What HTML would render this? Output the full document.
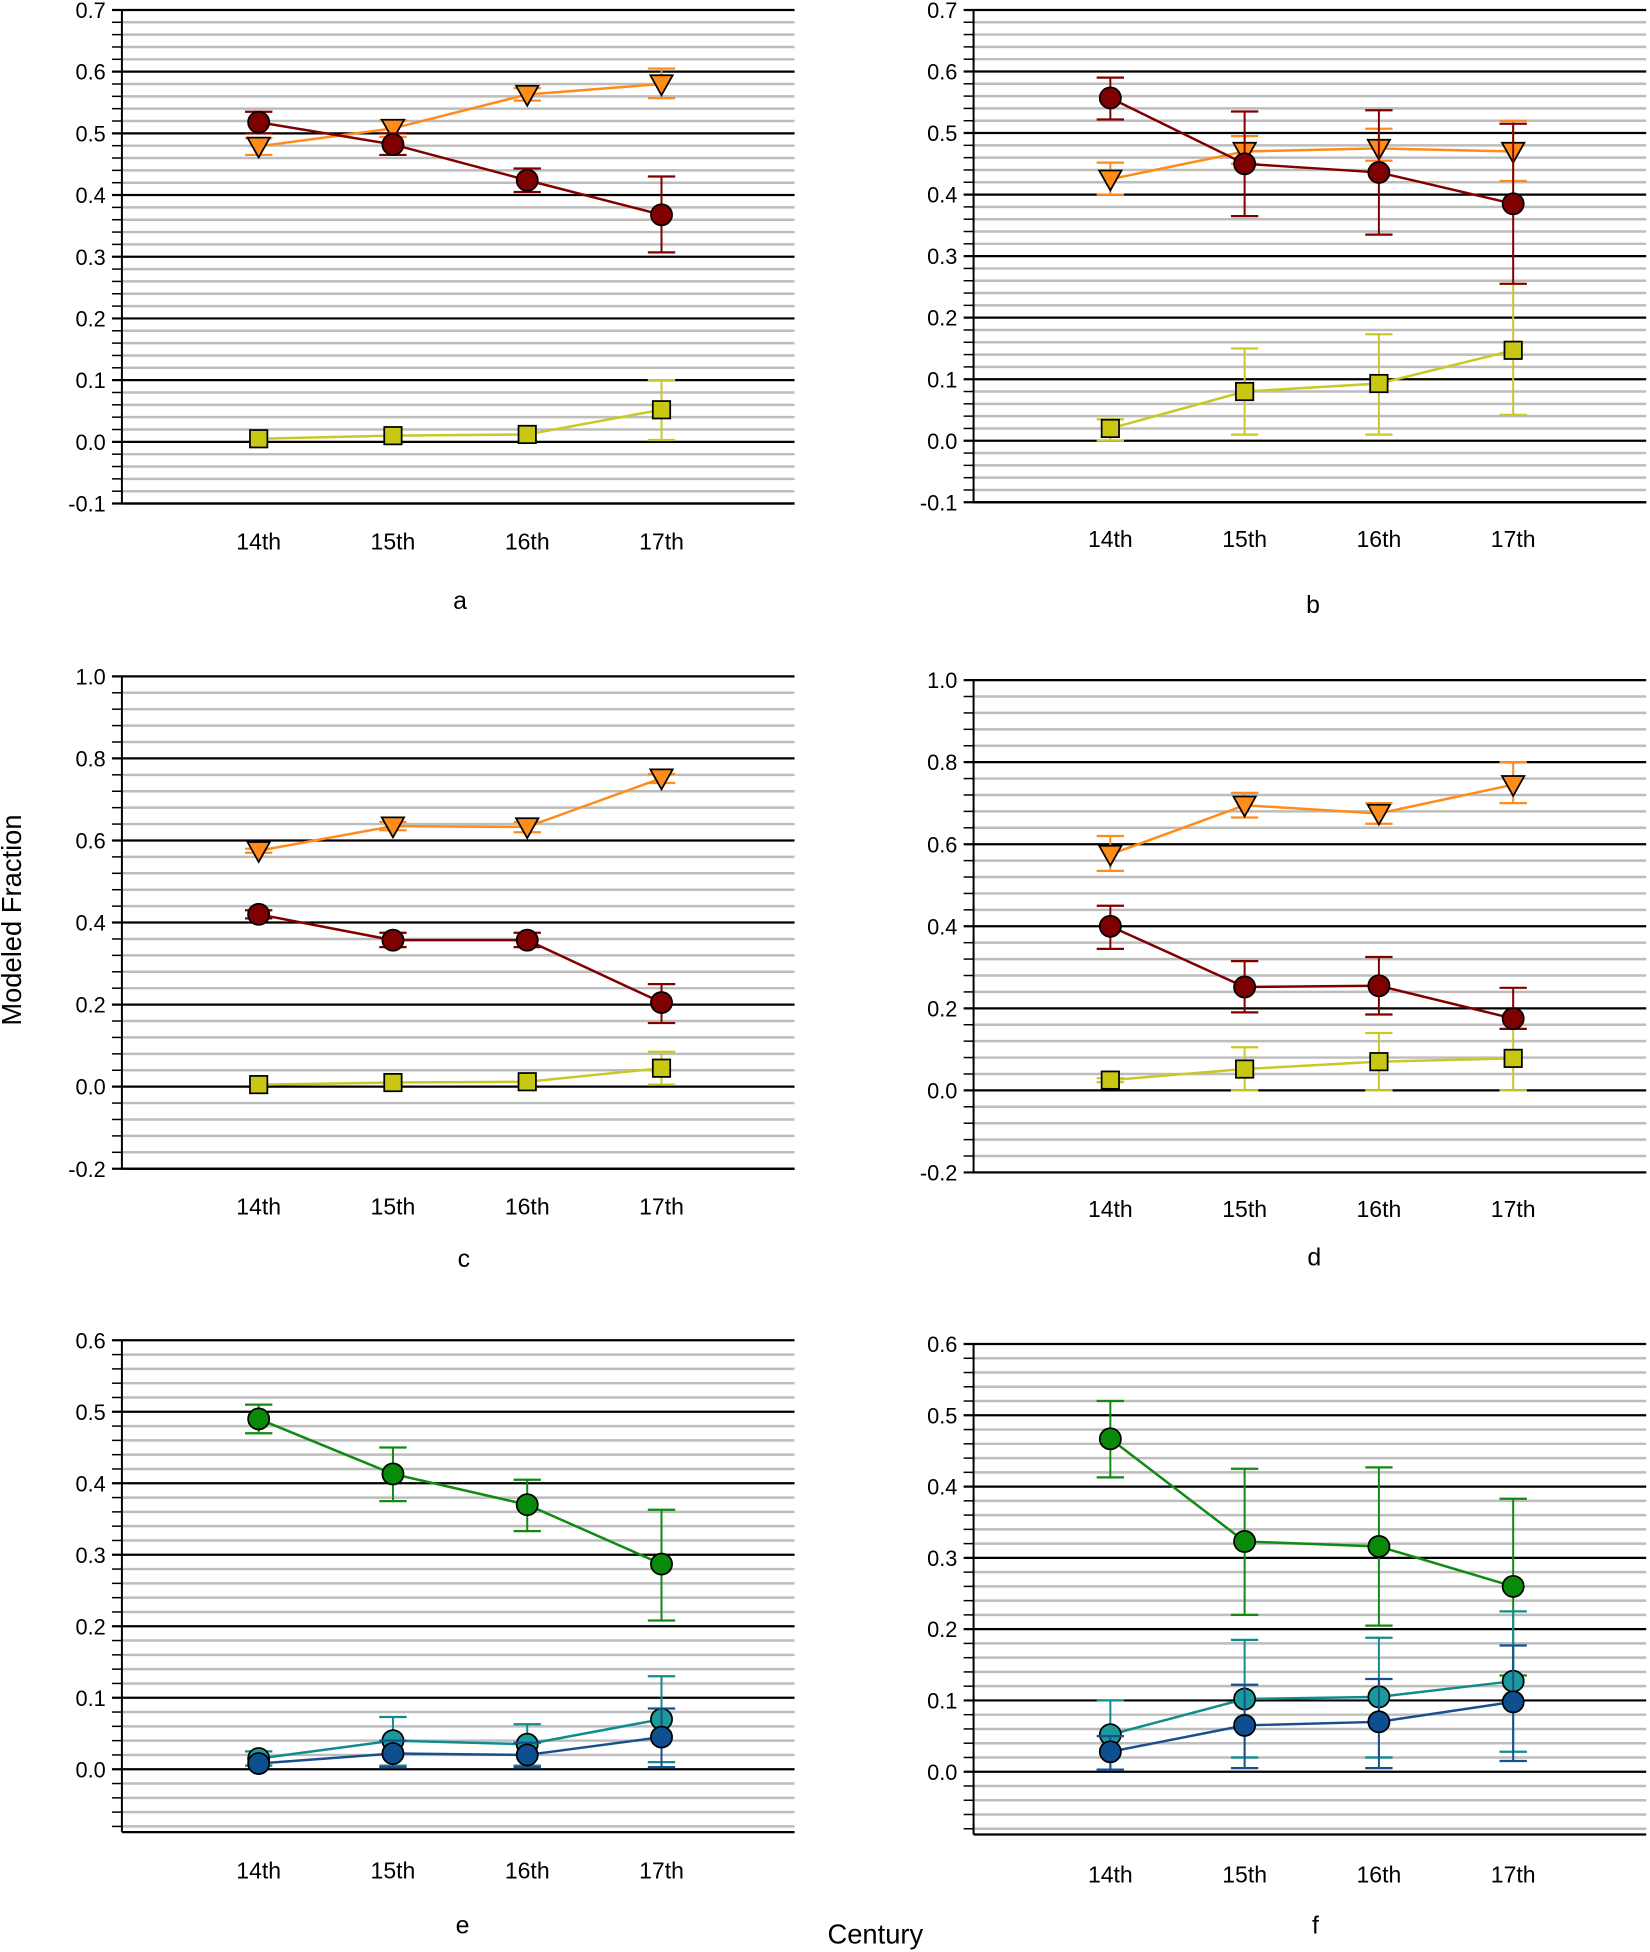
<!DOCTYPE html>
<html><head><meta charset="utf-8"><style>body{margin:0;background:#fff}svg{display:block}</style></head>
<body>
<svg id="s" width="1650" height="1952" viewBox="0 0 1327 1570" xmlns="http://www.w3.org/2000/svg" font-family="Liberation Sans, Arial, sans-serif"></svg>
<script>
const s=document.getElementById('s');let h='';
const C={red:['#7f0000','#800000'],or:['#ff8c1a','#ff8c1a'],ye:['#c8c814','#c8c828'],gr:['#0a8a0a','#118a11'],te:['#1a9a9a','#108c8c'],bl:['#104f8f','#1a4f8f']};
function panel(p){
 const {x0,x1,yTop,vTop,vBot,yBot,step,label,lx,ly,tly,series}=p;
 const y=v=>yTop+(vTop-v)/(vTop-vBot)*(yBot-yTop);
 const vMin=p.vMin!==undefined?p.vMin:vBot;
 const minor=step/5;
 for(let k=0;;k++){const v=vTop-k*minor;if(v<vMin-1e-9)break;const yy=y(v);
  const major=Math.abs(Math.round(v/step)*step-v)<1e-6;
  if(major){h+=`<line x1="${x0-8}" x2="${x1}" y1="${yy}" y2="${yy}" stroke="#000" stroke-width="1.8"/>`;
   h+=`<text x="${x0-13}" y="${yy+6.5}" font-size="17.5" text-anchor="end">${(Math.abs(v)<1e-9?0:v).toFixed(1)}</text>`;}
  else{h+=`<line x1="${x0}" x2="${x1}" y1="${yy}" y2="${yy}" stroke="#bdbdbd" stroke-width="2"/><line x1="${x0-8}" x2="${x0}" y1="${yy}" y2="${yy}" stroke="#000" stroke-width="1.2"/>`;}
 }
 const yb=y(vMin);
 h+=`<line x1="${x0}" x2="${x0}" y1="${yTop}" y2="${yb}" stroke="#000" stroke-width="1.6"/>`;
 h+=`<line x1="${x0}" x2="${x1}" y1="${yb}" y2="${yb}" stroke="#000" stroke-width="1.8"/>`;
 const xs=[x0+110,x0+218,x0+326,x0+434];
 ['14th','15th','16th','17th'].forEach((t,i)=>h+=`<text x="${xs[i]}" y="${tly}" font-size="18.5" text-anchor="middle">${t}</text>`);
 h+=`<text x="${lx}" y="${ly}" font-size="20" text-anchor="middle">${label}</text>`;
 series.forEach(se=>{const [fill,line]=C[se.c];
  h+=`<polyline fill="none" stroke="${line}" stroke-width="2" points="${se.d.map((d,i)=>xs[i]+','+y(d[0])).join(' ')}"/>`;
  se.d.forEach((d,i)=>{const x=xs[i];
   if(d[1]!==undefined){h+=`<line x1="${x}" x2="${x}" y1="${y(d[1])}" y2="${y(d[2])}" stroke="${line}" stroke-width="1.6"/>`;
    [d[1],d[2]].forEach(v=>h+=`<line x1="${x-11}" x2="${x+11}" y1="${y(v)}" y2="${y(v)}" stroke="${line}" stroke-width="1.8"/>`);}
  });
  se.d.forEach((d,i)=>{const x=xs[i],yy=y(d[0]);
   if(se.m=='o')h+=`<circle cx="${x}" cy="${yy}" r="8.5" fill="${fill}" stroke="#000" stroke-width="1.4"/>`;
   else if(se.m=='s')h+=`<rect x="${x-7}" y="${yy-7}" width="14" height="14" fill="${fill}" stroke="#000" stroke-width="1.4"/>`;
   else h+=`<polygon points="${x-9},${yy-7} ${x+9},${yy-7} ${x},${yy+9}" fill="${fill}" stroke="#000" stroke-width="1.4"/>`;
  });
 });
}
const A=(x0,yTop,yBot,tly,label,lx,ly,series)=>({x0,x1:x0+541,yTop,yBot,vTop:0.7,vBot:-0.1,step:0.1,tly,label,lx,ly,series});
panel(A(98,8,405,442,'a',370,490,[
 {c:'ye',m:'s',d:[[0.005],[0.01],[0.012],[0.052,0.003,0.1]]},
 {c:'or',m:'t',d:[[0.479,0.465,0.492],[0.508,0.494,0.521],[0.563,0.553,0.573],[0.58,0.557,0.605]]},
 {c:'red',m:'o',d:[[0.518,0.5,0.535],[0.482,0.465,0.5],[0.424,0.405,0.443],[0.368,0.307,0.43]]}]));
panel(A(783,8,404,440,'b',1056,493,[
 {c:'ye',m:'s',d:[[0.02,0,0.035],[0.08,0.01,0.15],[0.093,0.01,0.173],[0.147,0.042,0.255]]},
 {c:'or',m:'t',d:[[0.425,0.4,0.452],[0.47,0.45,0.495],[0.475,0.455,0.507],[0.47,0.422,0.52]]},
 {c:'red',m:'o',d:[[0.557,0.522,0.59],[0.45,0.365,0.535],[0.436,0.335,0.537],[0.385,0.255,0.515]]}]));
const B=(x0,yTop,yBot,tly,label,lx,ly,series)=>({x0,x1:x0+541,yTop,yBot,vTop:1.0,vBot:-0.2,step:0.2,tly,label,lx,ly,series});
panel(B(98,544,940,977,'c',373,1019,[
 {c:'ye',m:'s',d:[[0.005],[0.01],[0.012],[0.045,0.005,0.085]]},
 {c:'or',m:'t',d:[[0.575,0.57,0.58],[0.635,0.625,0.645],[0.633,0.62,0.645],[0.752,0.74,0.762]]},
 {c:'red',m:'o',d:[[0.42,0.41,0.43],[0.357,0.34,0.375],[0.357,0.34,0.375],[0.205,0.155,0.25]]}]));
panel(B(783,547,943,979,'d',1057,1018,[
 {c:'ye',m:'s',d:[[0.025,0.02,0.03],[0.052,0,0.105],[0.07,0,0.14],[0.078,0,0.15]]},
 {c:'or',m:'t',d:[[0.575,0.535,0.62],[0.695,0.665,0.725],[0.675,0.65,0.7],[0.745,0.7,0.8]]},
 {c:'red',m:'o',d:[[0.4,0.345,0.45],[0.252,0.19,0.315],[0.255,0.185,0.325],[0.175,0.15,0.25]]}]));
const E=(x0,yTop,y0,tly,label,lx,ly,series)=>({x0,x1:x0+541,yTop,yBot:y0+(y0-yTop)/6,vTop:0.6,vBot:-0.1,vMin:-0.088,step:0.1,tly,label,lx,ly,series});
panel(E(98,1078,1423,1511,'e',372,1555,[
 {c:'gr',m:'o',d:[[0.49,0.47,0.51],[0.413,0.375,0.45],[0.37,0.333,0.405],[0.287,0.208,0.363]]},
 {c:'te',m:'o',d:[[0.015,0.005,0.025],[0.04,0.005,0.073],[0.035,0.005,0.063],[0.07,0.01,0.13]]},
 {c:'bl',m:'o',d:[[0.008],[0.022,0.003,0.04],[0.02,0.003,0.037],[0.045,0.003,0.085]]}]));
panel(E(783,1081,1425,1514,'f',1058,1555,[
 {c:'gr',m:'o',d:[[0.467,0.413,0.52],[0.323,0.22,0.425],[0.316,0.205,0.427],[0.26,0.135,0.383]]},
 {c:'te',m:'o',d:[[0.052,0.003,0.1],[0.102,0.02,0.185],[0.105,0.02,0.188],[0.127,0.028,0.225]]},
 {c:'bl',m:'o',d:[[0.028,0.003,0.05],[0.065,0.005,0.122],[0.07,0.005,0.13],[0.098,0.015,0.177]]}]));
h+=`<text x="704" y="1563" font-size="22" text-anchor="middle">Century</text>`;
h+=`<text transform="translate(17,740) rotate(-90)" font-size="22" text-anchor="middle">Modeled Fraction</text>`;
s.innerHTML=h;
</script>
</body></html>
